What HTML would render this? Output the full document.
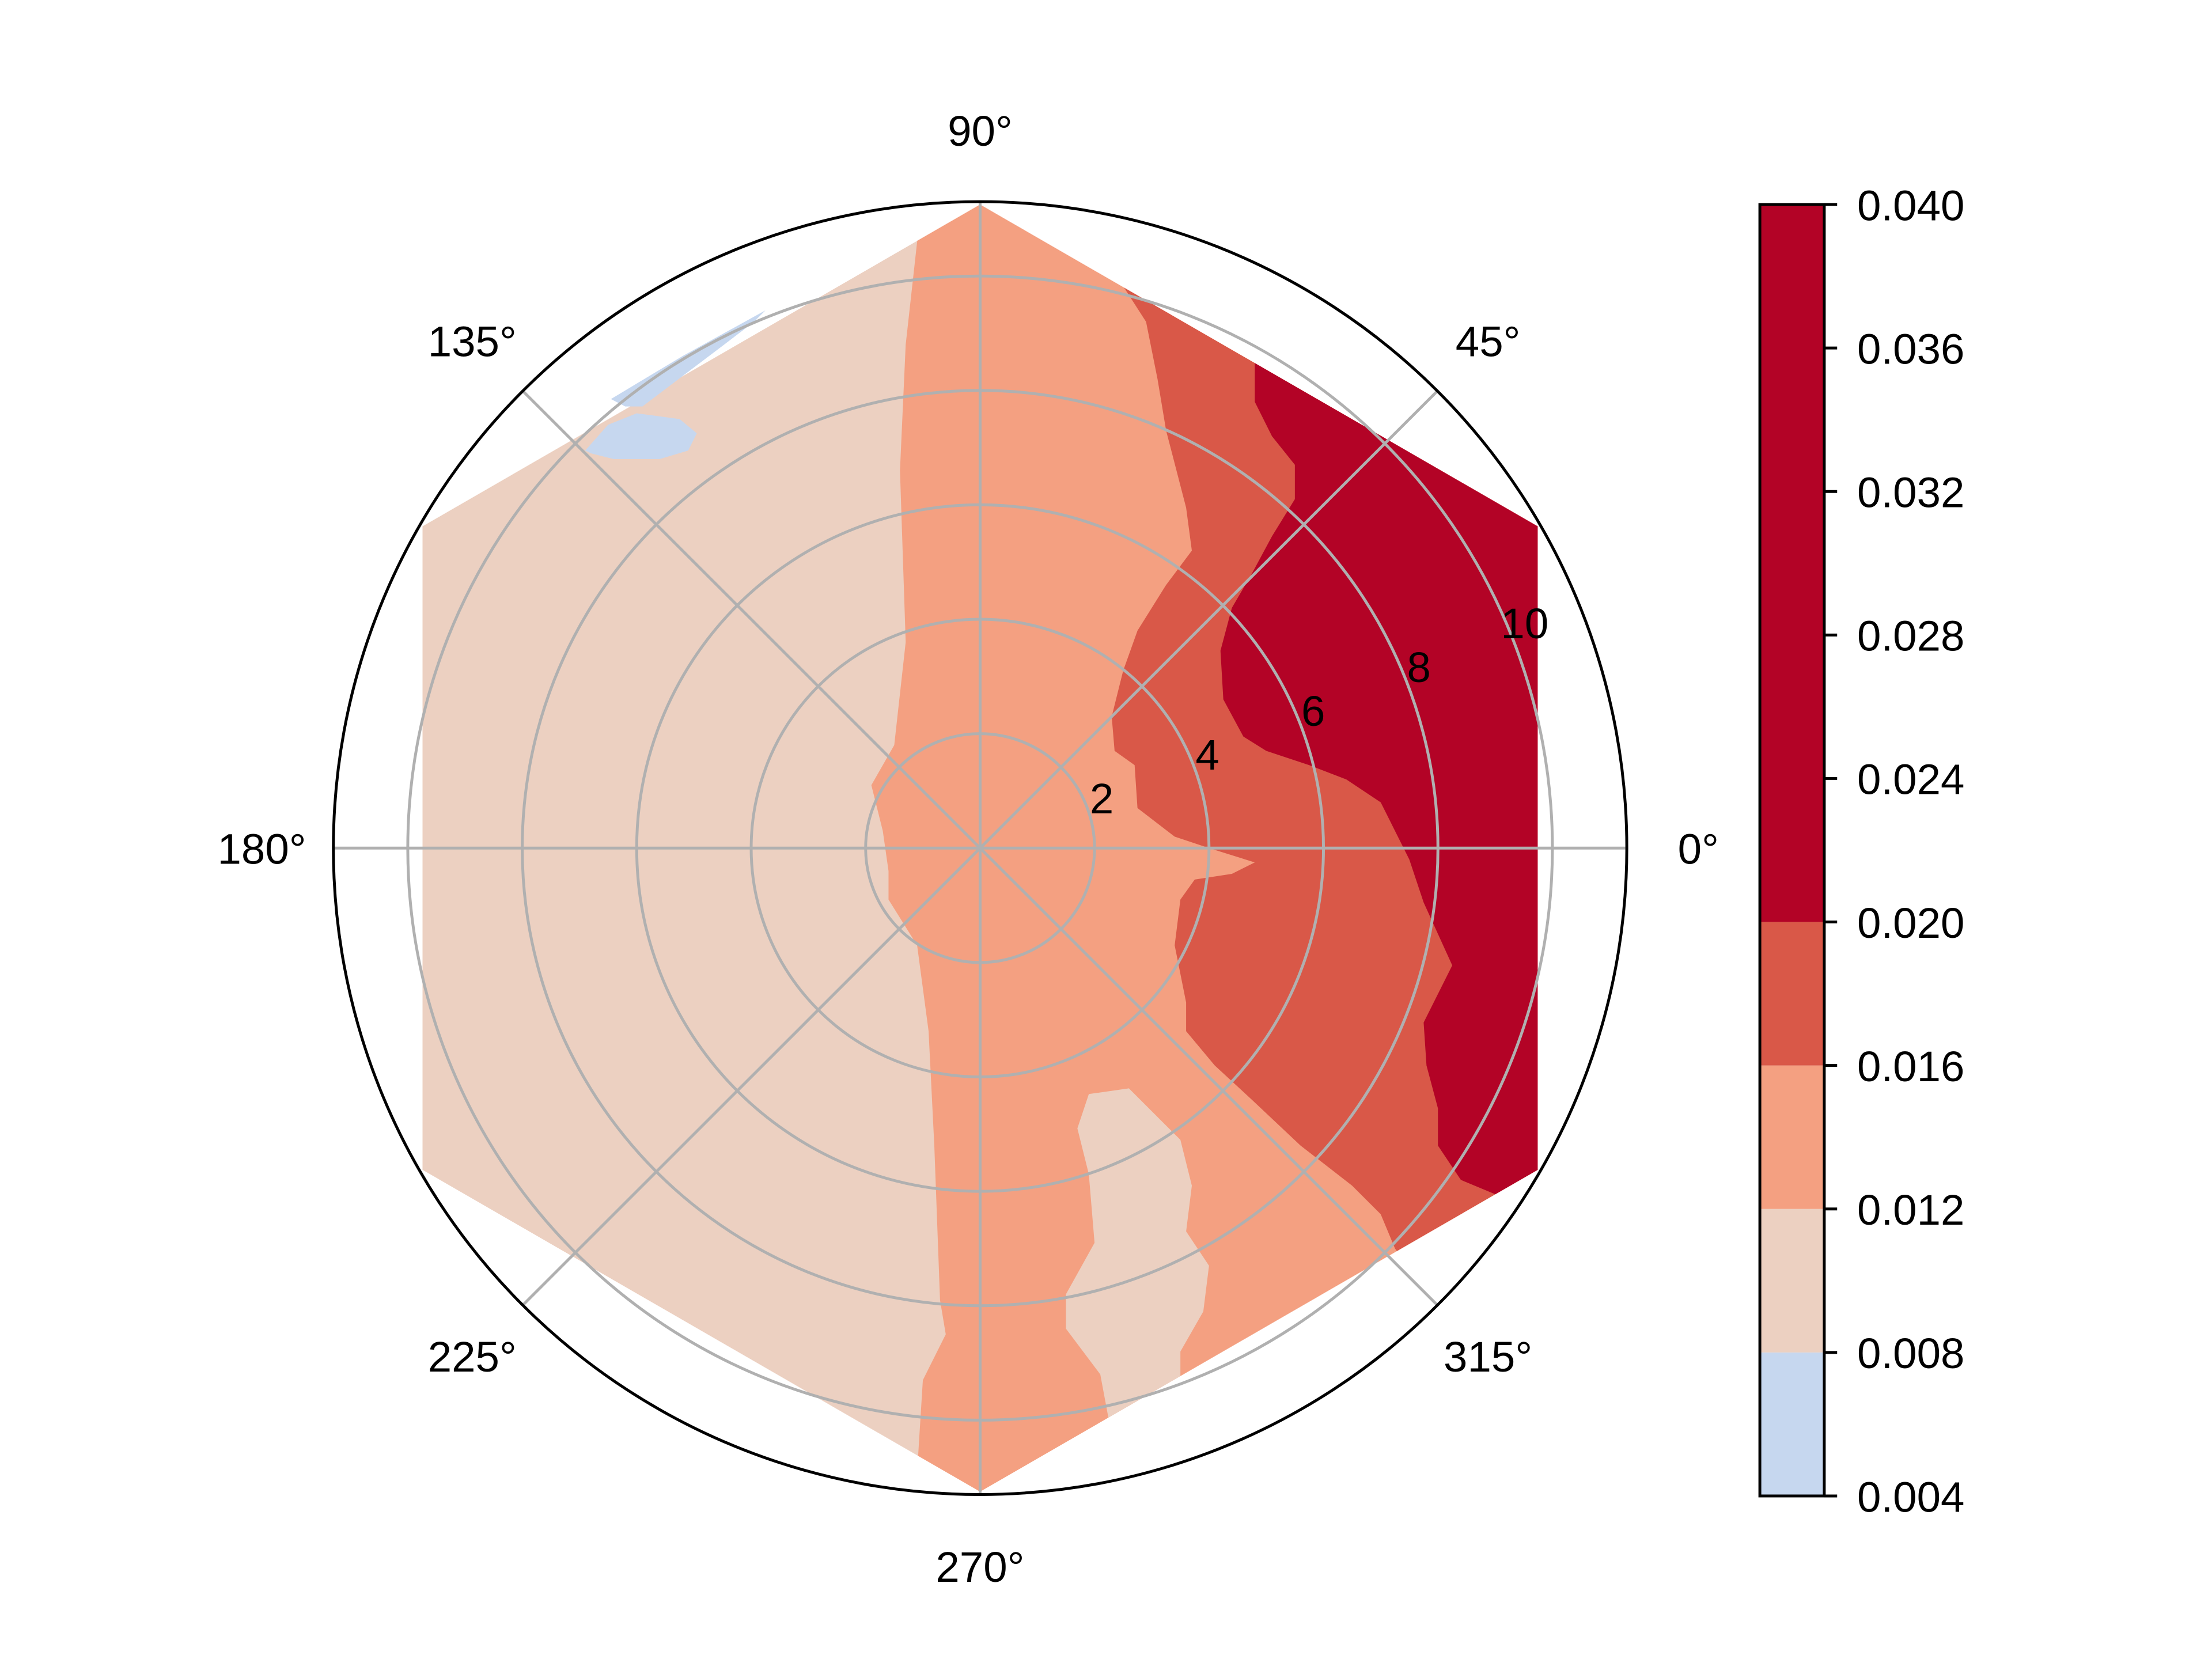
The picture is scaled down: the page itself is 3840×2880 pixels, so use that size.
<!DOCTYPE html>
<html><head><meta charset="utf-8"><style>
html,body{margin:0;padding:0;background:#fff;}
svg{display:block;}
text{font-family:"Liberation Sans","DejaVu Sans",sans-serif;font-size:30px;fill:#000;}
</style></head><body>
<svg id="chart" width="3840" height="2880" viewBox="0 0 1546 1160" preserveAspectRatio="none" xmlns="http://www.w3.org/2000/svg">
<defs><clipPath id="hexclip"><polygon id="hexpoly"/></clipPath></defs>
<g id="contours" clip-path="url(#hexclip)"></g>
<g id="contours2"></g>
<g id="grid"></g>
<g id="labels"></g>
<g id="cbar"></g>
</svg>
<script>
// polar axis
const CX=685, CY=593, PX_PER_UNIT=40, RMAX=11.3;
const radialTicks=[2,4,6,8,10];
const angleTicks=[0,45,90,135,180,225,270,315];
const hexRadius=11.25;
// contour levels & colours
const levels=[0.004,0.008,0.012,0.016,0.020,0.040];
const levelColors=['#c6d7ef','#ecd0c1','#f4a081','#d95848','#b30326'];
// contour boundaries in data units (x,y)
const bandSalmon=[[-1.1,10.6],[-1.3,8.8],[-1.4,6.6],[-1.3,3.6],[-1.5,1.8],[-1.9,1.1],[-1.7,0.3],[-1.6,-0.4],[-1.6,-0.9],[-1.1,-1.7],[-0.9,-3.2],[-0.8,-5.2],[-0.7,-7.9],[-0.6,-8.5],[-1.0,-9.3],[-1.1,-10.9],[-1.1,-13],[15,-13],[15,13],[-1.1,13]];
const islandBeige=[[1.9,-4.3],[2.6,-4.2],[3.5,-5.1],[3.7,-5.9],[3.6,-6.7],[4.0,-7.3],[3.9,-8.1],[3.5,-8.8],[3.5,-9.3],[2.25,-10],[2.1,-9.2],[1.5,-8.4],[1.5,-7.8],[2.0,-6.9],[1.9,-5.7],[1.7,-4.9]];
const bandMedium=[[2.45,9.9],[2.9,9.2],[3.1,8.2],[3.25,7.3],[3.6,5.95],[3.7,5.2],[3.25,4.6],[2.75,3.8],[2.5,3.1],[2.3,2.3],[2.35,1.7],[2.7,1.45],[2.75,0.7],[3.4,0.2],[4.0,0.0],[4.8,-0.25],[4.4,-0.45],[3.75,-0.55],[3.5,-0.9],[3.4,-1.7],[3.6,-2.7],[3.6,-3.2],[4.1,-3.8],[4.75,-4.4],[5.6,-5.2],[6.5,-5.9],[7.0,-6.4],[7.25,-7.0],[7.4,-7.2],[15,-7.2],[15,13],[2.45,13]];
const bandDark=[[4.8,8.3],[4.8,7.8],[5.1,7.2],[5.5,6.7],[5.5,6.1],[5.1,5.45],[4.75,4.8],[4.4,4.2],[4.2,3.45],[4.25,2.6],[4.6,1.95],[5.0,1.7],[5.75,1.45],[6.4,1.2],[7.0,0.8],[7.25,0.3],[7.5,-0.2],[7.75,-0.95],[8.25,-2.05],[7.75,-3.05],[7.8,-3.8],[8.0,-4.55],[8.0,-5.2],[8.4,-5.8],[9.0,-6.05],[15,-6.3],[15,13],[4.8,13]];
const stripBlue=[[-3.75,9.4],[-5.2,8.6],[-6.45,7.85],[-6.2,7.72],[-5.9,7.72],[-4.5,8.78],[-3.95,9.2]];
const blobBlue=[[-6.9,6.95],[-6.5,7.4],[-6.0,7.6],[-5.25,7.5],[-4.95,7.25],[-5.1,6.95],[-5.6,6.8],[-6.4,6.8],[-6.8,6.9]];
// colorbar ticks
const cbarTicks=['0.004','0.008','0.012','0.016','0.020','0.024','0.028','0.032','0.036','0.040'];
const cbarValues=[0.004,0.008,0.012,0.016,0.020,0.024,0.028,0.032,0.036,0.040];

const NS='http://www.w3.org/2000/svg';
function sx(x){return CX+x*PX_PER_UNIT;}
function sy(y){return CY-y*PX_PER_UNIT;}
function pol(r,deg){const a=deg*Math.PI/180;return [sx(r*Math.cos(a)),sy(r*Math.sin(a))];}
function mk(tag,attrs,parent){const e=document.createElementNS(NS,tag);for(const k in attrs)e.setAttribute(k,attrs[k]);parent.appendChild(e);return e;}
function pts(arr){return arr.map(p=>sx(p[0]).toFixed(1)+','+sy(p[1]).toFixed(1)).join(' ');}

const hexPts=[];for(let i=0;i<6;i++){hexPts.push(pol(hexRadius,90+60*i).map(v=>v.toFixed(1)).join(','));}
document.getElementById('hexpoly').setAttribute('points',hexPts.join(' '));
const cg=document.getElementById('contours');
const cg2=document.getElementById('contours2');
let e=mk('polygon',{points:hexPts.join(' '),fill:levelColors[1]},cg);


const bands=[[bandSalmon,2,'band-0.012-0.016',cg],[islandBeige,1,'island-0.008-0.012',cg],[bandMedium,3,'band-0.016-0.020',cg],[bandDark,4,'band-0.020-0.040',cg],[stripBlue,0,'strip-0.004-0.008',cg2],[blobBlue,0,'blob-0.004-0.008',cg2]];
for(const b of bands){
  e=mk('polygon',{points:pts(b[0]),fill:levelColors[b[1]]},b[3]);
  
  
}
const gg=document.getElementById('grid');
for(const r of radialTicks){
  e=mk('circle',{cx:CX,cy:CY,r:r*PX_PER_UNIT,fill:'none',stroke:'#b0b0b0','stroke-width':2},gg);
  
  
}
for(const a of angleTicks){
  const p=pol(RMAX,a);
  e=mk('line',{x1:CX,y1:CY,x2:p[0],y2:p[1],stroke:'#b0b0b0','stroke-width':2},gg);
  
  
}
e=mk('circle',{cx:CX,cy:CY,r:RMAX*PX_PER_UNIT,fill:'none',stroke:'#000','stroke-width':2},gg);


const lg=document.getElementById('labels');
for(const a of angleTicks){
  const p=pol(RMAX+1.25,a);
  const t=mk('text',{x:p[0],y:p[1]+11,'text-anchor':'middle'},lg);
  t.textContent=a+'°';
  
  
}
for(const r of radialTicks){
  const p=pol(r+0.3,22.5);
  const t=mk('text',{x:p[0],y:p[1]+11,'text-anchor':'middle'},lg);
  t.textContent=r;
  
  
}
const cb=document.getElementById('cbar');
const CB_X=1230,CB_W=45,CB_TOP=143,CB_BOT=1046;
function cy(v){return CB_BOT-(v-levels[0])/(levels[levels.length-1]-levels[0])*(CB_BOT-CB_TOP);}
for(let i=0;i<levelColors.length;i++){
  e=mk('rect',{x:CB_X,y:cy(levels[i+1]),width:CB_W,height:cy(levels[i])-cy(levels[i+1]),fill:levelColors[i]},cb);
  
  
}
e=mk('rect',{x:CB_X,y:CB_TOP,width:CB_W,height:CB_BOT-CB_TOP,fill:'none',stroke:'#000','stroke-width':2},cb);


for(let i=0;i<cbarValues.length;i++){
  const y=cy(cbarValues[i]);
  e=mk('line',{x1:CB_X+CB_W,y1:y,x2:CB_X+CB_W+9,y2:y,stroke:'#000','stroke-width':2},cb);
  
  
  const t=mk('text',{x:CB_X+CB_W+23,y:y+11},cb);
  t.textContent=cbarTicks[i];
  
  
}
</script>
</body></html>
